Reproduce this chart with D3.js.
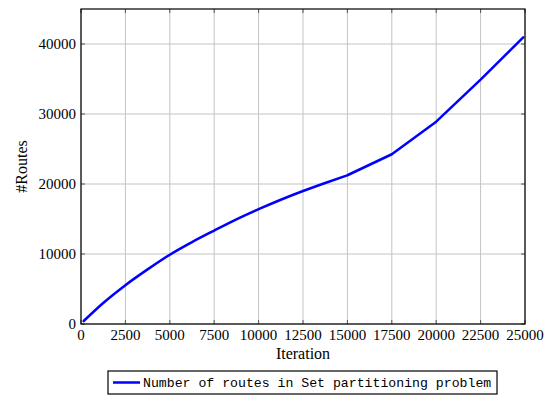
<!DOCTYPE html>
<html>
<head>
<meta charset="utf-8">
<script src="https://cdn.jsdelivr.net/npm/d3@7"></script>
<style>
  body { margin: 0; background: #fff; }
</style>
</head>
<body>
<script>
// data
var iterations = [150, 1250, 2500, 3750, 5000, 6250, 7500, 8750, 10000, 11250, 12500, 13750, 15000, 16250, 17500, 20000, 22500, 24900];
var routes = [420, 3000, 5550, 7800, 9900, 11700, 13350, 14950, 16400, 17750, 19000, 20150, 21250, 22750, 24250, 28900, 34900, 40950];
var xTicks = [0, 2500, 5000, 7500, 10000, 12500, 15000, 17500, 20000, 22500, 25000];
var yTicks = [0, 10000, 20000, 30000, 40000];
var seriesName = "Number of routes in Set partitioning problem";
var smoothUntil = 12; // index of 15000, the curve is smooth up to here, straight after

var W = 551, H = 396;
var margin = {top: 9, right: 26, bottom: 72, left: 81};
var width = W - margin.left - margin.right,
    height = H - margin.top - margin.bottom;

var svg = d3.select("body").append("svg")
    .attr("width", W)
    .attr("height", H);

var x = d3.scaleLinear().domain([0, 25000]).range([0, width]);
var y = d3.scaleLinear().domain([0, 45000]).range([height, 0]);

var g = svg.append("g")
    .attr("transform", "translate(" + margin.left + "," + margin.top + ")");

// grid
g.selectAll(".gx").data(xTicks).enter().append("line")
    .attr("x1", d => x(d)).attr("x2", d => x(d))
    .attr("y1", 0).attr("y2", height)
    .attr("stroke", "#c4c4c4").attr("stroke-width", 1);
g.selectAll(".gy").data(yTicks).enter().append("line")
    .attr("x1", 0).attr("x2", width)
    .attr("y1", d => y(d)).attr("y2", d => y(d))
    .attr("stroke", "#c4c4c4").attr("stroke-width", 1);

// inward ticks on all four sides
var tk = 4;
xTicks.forEach(function(d) {
  g.append("line").attr("x1", x(d)).attr("x2", x(d)).attr("y1", height).attr("y2", height - tk).attr("stroke", "#555");
  g.append("line").attr("x1", x(d)).attr("x2", x(d)).attr("y1", 0).attr("y2", tk).attr("stroke", "#555");
});
yTicks.forEach(function(d) {
  g.append("line").attr("x1", 0).attr("x2", tk).attr("y1", y(d)).attr("y2", y(d)).attr("stroke", "#555");
  g.append("line").attr("x1", width).attr("x2", width - tk).attr("y1", y(d)).attr("y2", y(d)).attr("stroke", "#555");
});

// tick labels
g.selectAll(".xl").data(xTicks).enter().append("text")
    .attr("x", d => x(d)).attr("y", height + 16)
    .attr("text-anchor", "middle")
    .attr("font-family", "Liberation Serif, serif").attr("font-size", "15px")
    .attr("fill", "#000")
    .text(d => d);
g.selectAll(".yl").data(yTicks).enter().append("text")
    .attr("x", -5).attr("y", d => y(d) + 5)
    .attr("text-anchor", "end")
    .attr("font-family", "Liberation Serif, serif").attr("font-size", "15px")
    .attr("fill", "#000")
    .text(d => d);

// axis titles
svg.append("text")
    .attr("x", margin.left + width / 2).attr("y", 359)
    .attr("text-anchor", "middle")
    .attr("font-family", "Liberation Serif, serif").attr("font-size", "16px")
    .text("Iteration");
svg.append("text")
    .attr("transform", "translate(27," + (margin.top + height / 2) + ") rotate(-90)")
    .attr("text-anchor", "middle")
    .attr("font-family", "Liberation Serif, serif").attr("font-size", "16px")
    .text("#Routes");

// the line: smooth head, straight tail
var pts = iterations.map((it, i) => [it, routes[i]]);
var smooth = d3.line().x(d => x(d[0])).y(d => y(d[1])).curve(d3.curveMonotoneX);
var straight = d3.line().x(d => x(d[0])).y(d => y(d[1]));
var path = smooth(pts.slice(0, smoothUntil + 1)) +
    straight(pts.slice(smoothUntil)).replace(/^M[^L]*/, "");
g.append("path")
    .attr("d", path)
    .attr("fill", "none")
    .attr("stroke", "#0000ff")
    .attr("stroke-width", 2.5)
    .attr("stroke-linejoin", "round")
    .attr("stroke-linecap", "round");

// frame
g.append("rect")
    .attr("width", width).attr("height", height)
    .attr("fill", "none").attr("stroke", "#000").attr("stroke-width", 1.2);

// legend
var leg = svg.append("g").attr("transform", "translate(108,371)");
leg.append("rect")
    .attr("width", 389).attr("height", 23)
    .attr("fill", "#fff").attr("stroke", "#000").attr("stroke-width", 1.2);
leg.append("line")
    .attr("x1", 5).attr("x2", 32).attr("y1", 11.5).attr("y2", 11.5)
    .attr("stroke", "#0000ff").attr("stroke-width", 2.5);
leg.append("text")
    .attr("x", 35).attr("y", 16)
    .attr("font-family", "Liberation Mono, monospace").attr("font-size", "13.2px")
    .text(seriesName);
</script>
</body>
</html>
